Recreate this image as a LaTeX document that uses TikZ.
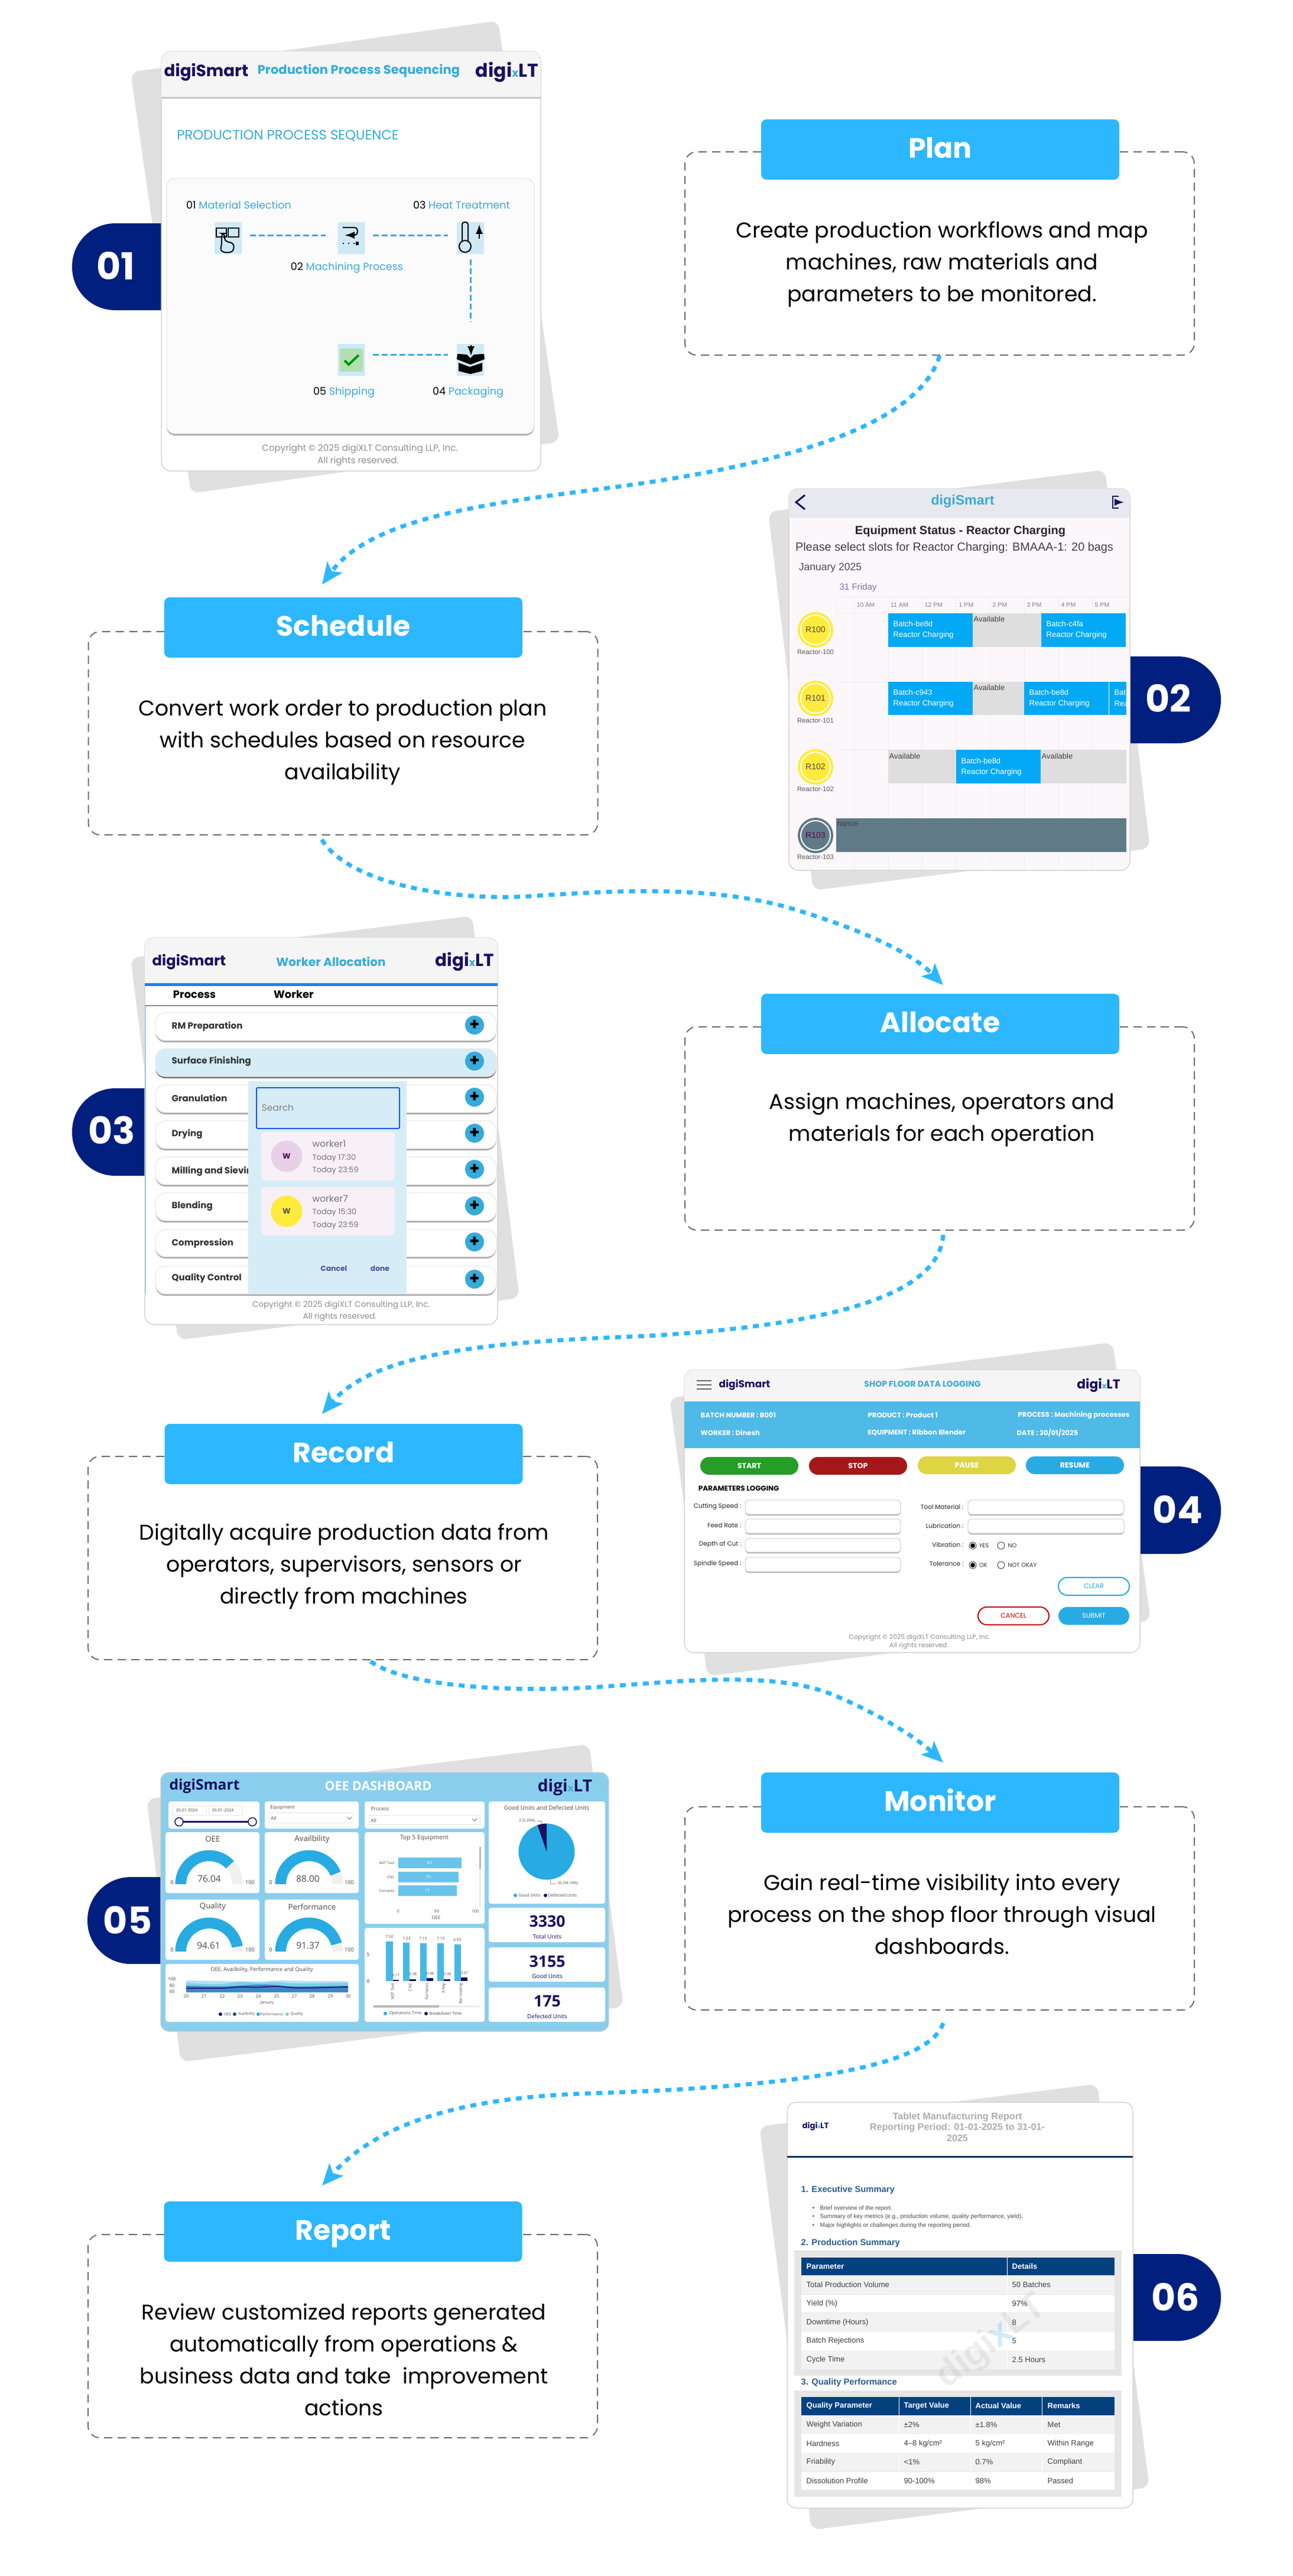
\documentclass[tikz,border=0pt]{standalone}
\usepackage{fontspec}
\usetikzlibrary{arrows.meta,shadows}
\setmainfont{Poppins}
\newfontfamily\repfont{Liberation Sans}
\newfontfamily\dashfont{Open Sans}
\newcommand{\fs}[1]{\fontsize{#1}{#1}\selectfont}
\definecolor{headblue}{HTML}{2DB7FF}
\definecolor{framegray}{HTML}{6E6E6E}
\definecolor{sheetgray}{HTML}{E0E0E0}
\definecolor{badgeblue}{HTML}{001F7E}
\definecolor{logonavy}{HTML}{1A1060}
\definecolor{seqblue}{HTML}{36ABD9}
\definecolor{cardedge}{HTML}{D4D4D4}
\definecolor{bandgray}{HTML}{F5F5F5}
\definecolor{footgray}{HTML}{8E8E8E}
\definecolor{tileblue}{HTML}{CFE9F5}
\definecolor{slotblue}{HTML}{03A9F4}
\definecolor{slotgray}{HTML}{DEDEDE}
\definecolor{slate}{HTML}{607A87}
\definecolor{tintsun}{HTML}{FFEB3B}
\definecolor{popupblue}{HTML}{D6EDF7}
\definecolor{actblue}{HTML}{27ABE2}
\definecolor{paneblue}{HTML}{8ACEED}
\definecolor{logband}{HTML}{4FB9E8}
\definecolor{dayviolet}{HTML}{7F6FA8}
\definecolor{repblue}{HTML}{03417F}
\definecolor{repband}{HTML}{F2F2F2}
\definecolor{repframe}{HTML}{E6E6E6}
\newcommand{\xlt}{digi\scalebox{0.6}{\textcolor{seqblue}{x}}LT}
\tikzset{
  stepframe/.style={draw=framegray,line width=0.02cm,dash pattern=on 0.14cm off 0.09cm,rounded corners=0.2cm,minimum width=8.62cm,minimum height=3.44cm},
  stephead/.style={fill=headblue,text=white,rounded corners=0.09cm,minimum width=6.06cm,minimum height=1.02cm,text height=0.38cm,text depth=0.1cm,font=\bfseries\fs{13.5}},
  steptext/.style={align=center,text=black,font=\fontsize{10.3}{15.4}\selectfont},
  flowline/.style={draw=headblue,line width=0.07cm,dash pattern=on 0.1cm off 0.095cm,-{Stealth[length=0.36cm,width=0.31cm,inset=0.08cm]}},
  sheet/.style={fill=sheetgray,rounded corners=0.14cm},
  badge/.style={fill=badgeblue,rounded corners=0.73cm},
  badgenum/.style={text=white,font=\bfseries\fs{18}},
  cardframe/.style={draw=cardedge,fill=white,line width=0.015cm,rounded corners=0.16cm},
  bandtop/.style={rounded corners=0.16cm},
  logotext/.style={text=logonavy,font=\bfseries\fs{#1}},
  foottext/.style={text=footgray,font=\fs{#1}},
  cardtitle/.style={text=seqblue,font=\bfseries\fs{#1}},
  seqlabel/.style={text=seqblue,font=\fs{5}},
  seqline/.style={draw=seqblue,line width=0.03cm,dash pattern=on 0.1cm off 0.05cm},
  icontile/.style={fill=tileblue,rounded corners=0.02cm,minimum width=0.46cm,minimum height=0.54cm},
  iconline/.style={draw=black,line width=0.02cm},
  slottext/.style={anchor=west,text=white,font=\repfont\fs{3.7}},
  freetext/.style={anchor=west,text=black!75,font=\repfont\fs{3.7}},
  hourtext/.style={text=black!50,font=\repfont\fs{3}},
  reactortext/.style={text=black!65,font=\repfont\fs{3.2}},
  gridrule/.style={draw=black!7,line width=0.01cm},
  sunring/.style={circle,draw=tintsun,line width=0.04cm,fill=tintsun,double=white,double distance=0.02cm,minimum size=0.5cm,text=black!70,font=\repfont\fs{4}},
  workrow/.style={draw=black!8,fill=white,rounded corners=0.17cm,drop shadow={shadow xshift=0cm,shadow yshift=-0.03cm,fill=black!35,opacity=1}},
  worklabel/.style={anchor=west,text=black!80,font=\bfseries\fs{4.3}},
  plusbtn/.style={circle,fill=seqblue,minimum size=0.32cm,text=black,font=\bfseries\fs{8}},
  workertext/.style={anchor=west,text=black!55,font=\fs{3.7}},
  pillbtn/.style={fill=#1,rounded corners=0.15cm,minimum width=1.66cm,minimum height=0.3cm,text=white,font=\bfseries\fs{3.6}},
  outlinebtn/.style={draw=#1,line width=0.02cm,fill=white,rounded corners=0.15cm,minimum width=1.2cm,minimum height=0.3cm,text=#1,font=\fs{3.2}},
  bandtext/.style={anchor=west,text=white,font=\bfseries\fs{3.3}},
  formtext/.style={anchor=east,text=black!85,font=\fs{3}},
  forminput/.style={draw=black!15,fill=white,rounded corners=0.06cm,drop shadow={shadow xshift=0cm,shadow yshift=-0.02cm,fill=black!35,opacity=1}},
  radiotext/.style={text=black!80,font=\fs{2.8}},
  radioring/.style={draw=black!70,line width=0.01cm,fill=white},
  dashpane/.style={fill=white,rounded corners=0.04cm},
  dashsmall/.style={text=black!70,font=\dashfont\fs{#1}},
  gaugebg/.style={fill=black!6},
  gaugeval/.style={fill=actblue},
  bigcount/.style={text=logonavy,font=\dashfont\bfseries\fs{7.6}},
  countname/.style={text=logonavy,font=\dashfont\fs{2.8}},
  reptext/.style={anchor=west,text=black!75,font=\repfont\fs{3.7}},
  rephead/.style={anchor=west,text=white,font=\repfont\bfseries\fs{3.7}},
  repsection/.style={anchor=west,text=repblue!85!white,font=\repfont\bfseries\fs{4.2}},
  repnote/.style={anchor=west,text=black!70,font=\repfont\fs{2.85}}
}
\begin{document}
\begin{tikzpicture}[x=1cm,y=-1cm,every node/.style={inner sep=0pt}]
\useasboundingbox (0,0) rectangle (21.88,43.6);

\fill[sheet] (2.21,1.22) -- (8.43,0.35) -- (9.47,7.48) -- (3.23,8.35) -- cycle;
\fill[badge] (3.0,3.78) -- (1.22,3.78) -- (1.22,5.25) -- (3.0,5.25);
\node[badgenum] (n1) at (1.96,4.5) {01};
\draw[cardframe] (2.73,0.87) rectangle (9.15,7.97);
\fill[fill=bandgray,bandtop] (2.73,1.64) -- (2.73,0.87) -- (9.15,0.87) -- (9.15,1.64);
\draw[draw=black!22,line width=0.03cm] (2.73,1.65) -- (9.15,1.65);
\node[logotext=7.9] (c1logo) at (3.49,1.22) {digiSmart};
\node[cardtitle=6] (c1title) at (6.07,1.2) {Production Process Sequencing};
\node[logotext=9] (c1xlt) at (8.58,1.22) {\xlt};
\node[text=seqblue,font=\fs{6.5}] (c1sub) at (4.87,2.3) {PRODUCTION PROCESS SEQUENCE};
\draw[draw=black!10,fill=black!1.5,rounded corners=0.14cm,drop shadow={shadow xshift=0cm,shadow yshift=-0.03cm,fill=black!35,opacity=1}] (2.82,3.02) rectangle (9.04,7.34);
\node[seqlabel] (c1l1) at (4.04,3.47) {\textcolor{black}{01} Material Selection};
\node[seqlabel] (c1l3) at (7.81,3.47) {\textcolor{black}{03} Heat Treatment};
\node[seqlabel] (c1l2) at (5.87,4.53) {\textcolor{black}{02} Machining Process};
\node[seqlabel] (c1l5) at (5.82,6.64) {\textcolor{black}{05} Shipping};
\node[seqlabel] (c1l4) at (7.92,6.64) {\textcolor{black}{04} Packaging};
\node[icontile] (t1) at (3.86,4.03) {};
\node[icontile] (t2) at (5.945,4.03) {};
\node[icontile] (t3) at (7.96,4.03) {};
\node[icontile] (t4) at (7.96,6.09) {};
\node[icontile] (t5) at (5.945,6.09) {};
\draw[seqline,shorten <=0.13cm,shorten >=0.2cm] ([yshift=0.05cm]t1.east) -- ([yshift=0.05cm]t2.west);
\draw[seqline,shorten <=0.13cm,shorten >=0.14cm] ([yshift=0.05cm]t2.east) -- ([yshift=0.05cm]t3.west);
\draw[seqline,shorten <=0.08cm,shorten >=0.37cm] (t3.south) -- (t4.north);
\draw[seqline,shorten <=0.13cm,shorten >=0.14cm] ([yshift=0.09cm]t5.east) -- ([yshift=0.09cm]t4.west);
\draw[iconline] (3.66,3.86) rectangle (3.83,4.01);
\draw[iconline] (3.86,3.86) rectangle (4.04,4.01);
\draw[iconline,rounded corners=0.05cm] (3.75,3.95) -- (3.75,4.16) -- (3.72,4.24) -- (3.82,4.28) -- (3.95,4.26) -- (3.96,4.12) -- (3.8,4.08) -- (3.8,3.95) -- cycle;
\draw[iconline,rounded corners=0.05cm] (5.8,3.85) -- (6.05,3.85) -- (6.05,3.98) -- (5.86,3.98);
\draw[iconline,->,>=latex] (5.95,3.98) -- (5.84,3.98);
\draw[iconline,dotted] (5.8,4.12) -- (6.02,4.12);
\fill[black] (6.02,4.09) rectangle (6.07,4.15);
\draw[iconline] (7.87,4.17) circle (0.1);
\draw[iconline,rounded corners=0.04cm] (7.82,4.08) -- (7.82,3.76) -- (7.92,3.76) -- (7.92,4.08);
\draw[iconline,->,>=latex] (8.11,4.04) -- (8.11,3.8);
\fill[black] (7.76,6.14) -- (7.95,6.21) -- (8.16,6.14) -- (8.16,6.28) -- (7.96,6.33) -- (7.76,6.28) -- cycle;
\fill[black] (7.74,5.99) -- (7.9,6.0) -- (7.96,6.06) -- (8.02,6.0) -- (8.19,5.99) -- (8.2,6.08) -- (7.96,6.17) -- (7.73,6.08) -- cycle;
\draw[iconline,->,>=latex] (7.97,5.84) -- (7.97,6.02);
\fill[green!60!black!30,rounded corners=0.02cm] (5.75,5.9) rectangle (6.14,6.29);
\draw[draw=green!60!black,line width=0.04cm] (5.83,6.1) -- (5.9,6.17) -- (6.07,6.01);
\node[foottext=4.3] (c1f1) at (6.09,7.6) {Copyright © 2025 digiXLT Consulting LLP, Inc.};
\node[foottext=4.3] (c1f2) at (6.06,7.81) {All rights reserved.};

\node[stepframe] (planbox) at (15.9,4.29) {};
\node[stephead] (planhead) at (15.91,2.53) {Plan};
\node[steptext] (plantext) at (15.94,4.47) {Create production workflows and map\\machines, raw materials and\\parameters to be monitored.};

\fill[sheet] (13.0,8.66) -- (18.7,7.95) -- (19.46,14.36) -- (13.76,15.07) -- cycle;
\fill[badge] (18.5,11.11) -- (20.66,11.11) -- (20.66,12.58) -- (18.5,12.58);
\node[badgenum] (n2) at (19.77,11.82) {02};
\draw[cardframe,fill=violet!3] (13.35,8.27) rectangle (19.12,14.73);
\fill[fill=blue!20!gray!15,bandtop] (13.35,8.76) -- (13.35,8.27) -- (19.12,8.27) -- (19.12,8.76);
\draw[draw=logonavy,line width=0.03cm] (13.62,8.38) -- (13.47,8.5) -- (13.62,8.62);
\draw[draw=logonavy,line width=0.02cm] (18.93,8.4) -- (18.83,8.4) -- (18.83,8.6) -- (18.93,8.6);
\draw[draw=logonavy,line width=0.02cm,->,>=latex] (18.88,8.5) -- (19.02,8.5);
\node[text=seqblue,font=\repfont\bfseries\fs{6.6}] (c2logo) at (16.29,8.49) {digiSmart};
\node[text=black!85,font=\repfont\bfseries\fs{5.7}] (c2title) at (16.25,8.99) {Equipment Status - Reactor Charging};
\node[text=black!75,font=\repfont\fs{5.65}] (c2sub) at (16.15,9.27) {Please select slots for Reactor Charging: BMAAA-1: 20 bags};
\node[text=black!70,font=\repfont\fs{5}] (c2month) at (14.05,9.61) {January 2025};
\node[text=dayviolet,font=\repfont\fs{4.3}] (c2day) at (14.52,9.95) {31 Friday};
\draw[gridrule] (14.15,10.1) -- (19.06,10.1) (14.15,10.38) -- (19.06,10.38) (14.15,11.54) -- (19.06,11.54) (14.15,12.69) -- (19.06,12.69) (14.15,10.1) -- (14.15,10.38);
\draw[gridrule] (14.45,10.1) -- (14.45,14.73) (15.03,10.1) -- (15.03,14.73) (15.6,10.1) -- (15.6,14.73) (16.17,10.1) -- (16.17,14.73) (16.75,10.1) -- (16.75,14.73) (17.33,10.1) -- (17.33,14.73) (17.91,10.1) -- (17.91,14.73) (18.48,10.1) -- (18.48,14.73);
\node[hourtext] (h10) at (14.65,10.24) {10 AM};
\node[hourtext] (h11) at (15.22,10.24) {11 AM};
\node[hourtext] (h12) at (15.8,10.24) {12 PM};
\node[hourtext] (h13) at (16.35,10.24) {1 PM};
\node[hourtext] (h14) at (16.92,10.24) {2 PM};
\node[hourtext] (h15) at (17.5,10.24) {3 PM};
\node[hourtext] (h16) at (18.08,10.24) {4 PM};
\node[hourtext] (h17) at (18.65,10.24) {5 PM};
\fill[slotblue] (15.03,10.38) rectangle (16.46,10.95);
\fill[slotgray] (16.46,10.38) rectangle (17.62,10.95);
\fill[slotblue] (17.62,10.38) rectangle (19.05,10.95);
\fill[slotblue] (15.03,11.54) rectangle (16.46,12.1);
\fill[slotgray] (16.46,11.54) rectangle (17.33,12.1);
\fill[slotblue] (17.33,11.54) rectangle (18.76,12.1);
\fill[slotblue] (18.77,11.54) rectangle (19.06,12.1);
\fill[slotgray] (15.03,12.69) rectangle (16.18,13.26);
\fill[slotblue] (16.18,12.69) rectangle (17.61,13.26);
\fill[slotgray] (17.61,12.69) rectangle (19.06,13.26);
\fill[slate] (14.15,13.85) rectangle (19.06,14.42);
\node[slottext] (s1a) at (15.11,10.56) {Batch-be8d};
\node[slottext] (s1b) at (15.11,10.75) {Reactor Charging};
\node[slottext] (s1c) at (17.7,10.56) {Batch-c4fa};
\node[slottext] (s1d) at (17.7,10.75) {Reactor Charging};
\node[freetext] (s1e) at (16.47,10.48) {Available};
\node[slottext] (s2a) at (15.11,11.72) {Batch-c943};
\node[slottext] (s2b) at (15.11,11.91) {Reactor Charging};
\node[freetext] (s2c) at (16.47,11.64) {Available};
\node[slottext] (s2d) at (17.41,11.72) {Batch-be8d};
\node[slottext] (s2e) at (17.41,11.91) {Reactor Charging};
\node[slottext] (s2f) at (18.85,11.72) {Bat};
\node[slottext] (s2g) at (18.85,11.91) {Rea};
\node[freetext] (s3a) at (15.04,12.8) {Available};
\node[slottext] (s3b) at (16.26,12.88) {Batch-be8d};
\node[slottext] (s3c) at (16.26,13.07) {Reactor Charging};
\node[freetext] (s3d) at (17.62,12.8) {Available};
\node[freetext] (s4a) at (14.16,13.95) {nance};
\node[sunring] (r0) at (13.8,10.66) {R100};
\node[sunring] (r1) at (13.8,11.82) {R101};
\node[sunring] (r2) at (13.8,12.98) {R102};
\node[sunring,draw=slate,fill=slate,text=violet!70!black] (r3) at (13.8,14.14) {R103};
\node[reactortext] (rl0) at (13.8,11.04) {Reactor-100};
\node[reactortext] (rl1) at (13.8,12.2) {Reactor-101};
\node[reactortext] (rl2) at (13.8,13.36) {Reactor-102};
\node[reactortext] (rl3) at (13.8,14.51) {Reactor-103};

\node[stepframe] (schedbox) at (5.805,12.41) {};
\node[stephead] (schedhead) at (5.81,10.62) {Schedule};
\node[steptext] (schedtext) at (5.8,12.56) {Convert work order to production plan\\with schedules based on resource\\availability};

\fill[sheet] (2.21,16.21) -- (7.99,15.5) -- (8.79,21.97) -- (3.01,22.68) -- cycle;
\fill[badge] (3.0,18.42) -- (1.22,18.42) -- (1.22,19.9) -- (3.0,19.9);
\node[badgenum] (n3) at (1.89,19.13) {03};
\draw[cardframe] (2.45,15.87) rectangle (8.42,22.42);
\fill[fill=bandgray,bandtop] (2.45,16.64) -- (2.45,15.87) -- (8.42,15.87) -- (8.42,16.64);
\draw[draw=headblue!70!blue,line width=0.05cm] (2.45,16.66) -- (8.42,16.66);
\node[logotext=6.9] (c3logo) at (3.2,16.28) {digiSmart};
\node[cardtitle=5.7] (c3title) at (5.6,16.28) {Worker Allocation};
\node[logotext=8.4] (c3xlt) at (7.86,16.28) {\xlt};
\node[text=black,font=\bfseries\fs{5.1}] (c3p) at (3.29,16.83) {Process};
\node[text=black,font=\bfseries\fs{5.1}] (c3w) at (4.97,16.83) {Worker};
\draw[draw=black!45,line width=0.02cm] (2.45,17.02) -- (8.42,17.02);
\draw[draw=seqblue!70,line width=0.01cm] (2.46,17.02) -- (2.46,21.9);
\draw[workrow] (2.63,17.14) rectangle (8.4,17.61);
\draw[workrow,fill=popupblue,drop shadow={shadow xshift=0cm,shadow yshift=-0.03cm,fill=black!55,opacity=1}] (2.63,17.75) rectangle (8.4,18.22);
\draw[workrow] (2.63,18.36) rectangle (8.4,18.83);
\draw[workrow] (2.63,18.97) rectangle (8.4,19.44);
\draw[workrow] (2.63,19.58) rectangle (8.4,20.05);
\draw[workrow] (2.63,20.19) rectangle (8.4,20.66);
\draw[workrow] (2.63,20.81) rectangle (8.4,21.27);
\draw[workrow] (2.63,21.43) rectangle (8.4,21.9);
\node[worklabel] (w1) at (2.9,17.37) {RM Preparation};
\node[worklabel] (w2) at (2.9,17.96) {Surface Finishing};
\node[worklabel] (w3) at (2.9,18.58) {Granulation};
\node[worklabel] (w4) at (2.9,19.19) {Drying};
\node[worklabel] (w5) at (2.9,19.82) {Milling and Sieving};
\node[worklabel] (w6) at (2.9,20.41) {Blending};
\node[worklabel] (w7) at (2.9,21.04) {Compression};
\node[worklabel] (w8) at (2.9,21.63) {Quality Control};
\node[plusbtn] (a1) at (8.03,17.35) {+};
\node[plusbtn] (a2) at (8.03,17.96) {+};
\node[plusbtn] (a3) at (8.03,18.57) {+};
\node[plusbtn] (a4) at (8.03,19.18) {+};
\node[plusbtn] (a5) at (8.03,19.79) {+};
\node[plusbtn] (a6) at (8.03,20.41) {+};
\node[plusbtn] (a7) at (8.03,21.02) {+};
\node[plusbtn] (a8) at (8.03,21.65) {+};
\fill[popupblue] (4.2,18.3) rectangle (6.88,21.89);
\draw[draw=blue!50!seqblue,line width=0.02cm,rounded corners=0.02cm] (4.34,18.41) rectangle (6.76,19.1);
\node[text=black!50,font=\fs{4.4}] (c3s) at (4.7,18.75) {Search};
\fill[violet!6,rounded corners=0.07cm] (4.42,19.16) rectangle (6.68,19.98);
\fill[violet!6,rounded corners=0.07cm] (4.42,20.09) rectangle (6.68,20.91);
\node[circle,fill=violet!18,minimum size=0.53cm,text=violet!70!black,font=\bfseries\fs{3.7}] (av1) at (4.85,19.57) {W};
\node[circle,fill=tintsun,minimum size=0.53cm,text=black!65,font=\bfseries\fs{3.7}] (av2) at (4.85,20.5) {W};
\node[workertext,font=\fs{4.4}] (wk1) at (5.28,19.36) {worker1};
\node[workertext] (wk1a) at (5.28,19.6) {Today 17:30};
\node[workertext] (wk1b) at (5.28,19.81) {Today 23:59};
\node[workertext,font=\fs{4.4}] (wk2) at (5.28,20.29) {worker7};
\node[workertext] (wk2a) at (5.28,20.52) {Today 15:30};
\node[workertext] (wk2b) at (5.28,20.74) {Today 23:59};
\node[text=blue!40!black!70,font=\bfseries\fs{3.5}] (c3c) at (5.65,21.47) {Cancel};
\node[text=blue!40!black!70,font=\bfseries\fs{3.5}] (c3d) at (6.43,21.47) {done};
\node[foottext=3.9] (c3f1) at (5.77,22.09) {Copyright © 2025 digiXLT Consulting LLP, Inc.};
\node[foottext=3.9] (c3f2) at (5.75,22.29) {All rights reserved.};

\node[stepframe] (allocbox) at (15.9,19.1) {};
\node[stephead] (allochead) at (15.91,17.33) {Allocate};
\node[steptext] (alloctext) at (15.94,18.95) {Assign machines, operators and\\materials for each operation};

\fill[sheet] (11.33,23.66) -- (18.83,22.72) -- (19.47,27.43) -- (11.97,28.37) -- cycle;
\fill[badge] (18.5,24.82) -- (20.66,24.82) -- (20.66,26.3) -- (18.5,26.3);
\node[badgenum] (n4) at (19.93,25.55) {04};
\draw[cardframe] (11.58,23.19) rectangle (19.29,27.97);
\fill[fill=bandgray,bandtop] (11.58,23.72) -- (11.58,23.19) -- (19.29,23.19) -- (19.29,23.72);
\fill[fill=logband] (11.58,23.72) rectangle (19.29,24.51);
\draw[draw=black!60,line width=0.015cm] (11.79,23.37) -- (12.04,23.37) (11.79,23.44) -- (12.04,23.44) (11.79,23.51) -- (12.04,23.51);
\node[logotext=4.8] (c4logo) at (12.6,23.44) {digiSmart};
\node[cardtitle=4] (c4title) at (15.61,23.43) {SHOP FLOOR DATA LOGGING};
\node[logotext=6.2] (c4xlt) at (18.59,23.45) {\xlt};
\node[bandtext] (b1) at (11.85,23.95) {BATCH NUMBER : B001};
\node[bandtext] (b2) at (14.68,23.95) {PRODUCT : Product 1};
\node[bandtext] (b3) at (17.22,23.95) {PROCESS : Machining processes};
\node[bandtext] (b4) at (11.85,24.25) {WORKER : Dinesh};
\node[bandtext] (b5) at (14.68,24.25) {EQUIPMENT : Ribbon Blender};
\node[bandtext] (b6) at (17.2,24.25) {DATE : 30/01/2025};
\node[pillbtn=green!55!black!85] (bstart) at (12.68,24.81) {START};
\node[pillbtn=red!60!black!90] (bstop) at (14.52,24.81) {STOP};
\node[pillbtn=yellow!70!gray] (bpause) at (16.36,24.8) {PAUSE};
\node[pillbtn=actblue] (bresume) at (18.19,24.8) {RESUME};
\node[text=black,font=\bfseries\fs{3.4}] (c4p) at (12.5,25.19) {PARAMETERS LOGGING};
\draw[forminput] (12.61,25.39) rectangle (15.24,25.63);
\draw[forminput] (12.61,25.71) rectangle (15.24,25.95);
\draw[forminput] (12.61,26.04) rectangle (15.24,26.27);
\draw[forminput] (12.61,26.36) rectangle (15.24,26.6);
\draw[forminput] (16.38,25.39) rectangle (19.02,25.63);
\draw[forminput] (16.38,25.71) rectangle (19.02,25.95);
\node[formtext] (f1) at (12.55,25.5) {Cutting Speed :};
\node[formtext] (f2) at (12.55,25.82) {Feed Rate :};
\node[formtext] (f3) at (12.55,26.14) {Depth of Cut :};
\node[formtext] (f4) at (12.55,26.47) {Spindle Speed :};
\node[formtext] (f5) at (16.31,25.5) {Tool Material :};
\node[formtext] (f6) at (16.31,25.82) {Lubrication :};
\node[formtext] (f7) at (16.31,26.14) {Vibration :};
\node[formtext] (f8) at (16.31,26.47) {Tolerance :};
\draw[radioring] (16.46,26.16) circle (0.06);
\draw[radioring] (16.94,26.16) circle (0.06);
\draw[radioring] (16.46,26.49) circle (0.06);
\draw[radioring] (16.94,26.49) circle (0.06);
\fill[black] (16.46,26.16) circle (0.04);
\fill[black] (16.46,26.49) circle (0.04);
\node[radiotext] (g1) at (16.65,26.16) {YES};
\node[radiotext] (g2) at (17.13,26.16) {NO};
\node[radiotext] (g3) at (16.64,26.49) {OK};
\node[radiotext] (g4) at (17.3,26.49) {NOT OKAY};
\node[outlinebtn=actblue] (bclear) at (18.51,26.85) {CLEAR};
\node[outlinebtn=red!80!black] (bcancel) at (17.15,27.35) {CANCEL};
\node[pillbtn=actblue,minimum width=1.2cm,font=\fs{3.2}] (bsubmit) at (18.51,27.35) {SUBMIT};
\node[foottext=3.1] (c4f1) at (15.56,27.72) {Copyright © 2025 digiXLT Consulting LLP, Inc.};
\node[foottext=3.1] (c4f2) at (15.55,27.86) {All rights reserved.};

\node[stepframe] (recbox) at (5.8,26.37) {};
\node[stephead] (rechead) at (5.815,24.61) {Record};
\node[steptext] (rectext) at (5.82,26.51) {Digitally acquire production data from\\operators, supervisors, sensors or\\directly from machines};

\fill[sheet] (2.48,30.45) -- (9.97,29.52) -- (10.55,33.97) -- (3.06,34.9) -- cycle;
\fill[badge] (3.0,31.77) -- (1.48,31.77) -- (1.48,33.24) -- (3.0,33.24);
\node[badgenum] (n5) at (2.16,32.5) {05};
\draw[fill=paneblue,draw=black!20,rounded corners=0.14cm] (2.72,30.0) rectangle (10.3,34.38);
\node[text=logonavy,font=\dashfont\bfseries\fs{7}] (c5logo) at (3.46,30.23) {digiSmart};
\node[text=white,font=\dashfont\bfseries\fs{6.1}] (c5title) at (6.4,30.23) {OEE DASHBOARD};
\node[text=logonavy,font=\dashfont\bfseries\fs{8}] (c5xlt) at (9.56,30.25) {\xlt};
\fill[dashpane] (2.85,30.49) rectangle (4.39,30.95);
\fill[dashpane] (4.48,30.49) rectangle (6.07,30.95);
\fill[dashpane] (6.17,30.49) rectangle (8.2,30.95);
\fill[dashpane] (8.27,30.49) rectangle (10.24,32.22);
\fill[dashpane] (2.8,31.01) rectangle (4.39,32.04);
\fill[dashpane] (4.48,31.01) rectangle (6.07,32.04);
\fill[dashpane] (2.8,32.15) rectangle (4.39,33.17);
\fill[dashpane] (4.48,32.15) rectangle (6.07,33.17);
\fill[dashpane] (6.17,31.01) rectangle (8.2,32.56);
\fill[dashpane] (6.17,32.63) rectangle (8.2,34.22);
\fill[dashpane] (2.8,33.24) rectangle (6.07,34.22);
\fill[dashpane] (8.27,32.29) rectangle (10.24,32.87);
\fill[dashpane] (8.27,32.96) rectangle (10.24,33.54);
\fill[dashpane] (8.27,33.64) rectangle (10.24,34.22);
\draw[draw=black!10,line width=0.01cm] (2.92,30.56) rectangle (3.49,30.72) (3.53,30.56) rectangle (4.1,30.72);
\node[dashsmall=2] (d1) at (3.16,30.64) {20-01-2024};
\node[dashsmall=2] (d2) at (3.77,30.64) {30-01-2024};
\draw[draw=logonavy,line width=0.025cm] (3.1,30.835) -- (4.2,30.835);
\draw[draw=logonavy,line width=0.015cm,fill=white] (3.03,30.835) circle (0.07) (4.27,30.835) circle (0.07);
\node[dashsmall=2.3] (d3) at (4.78,30.59) {Equipment};
\draw[draw=black!10,line width=0.01cm] (4.54,30.68) rectangle (5.98,30.85);
\node[dashsmall=2.3] (d4) at (4.63,30.77) {All};
\draw[draw=black!50,line width=0.01cm] (5.87,30.75) -- (5.91,30.79) -- (5.95,30.75);
\node[dashsmall=2.4] (d5) at (6.43,30.61) {Process};
\draw[draw=black!10,line width=0.01cm] (6.24,30.72) rectangle (8.12,30.88);
\node[dashsmall=2.3] (d6) at (6.32,30.81) {All};
\draw[draw=black!50,line width=0.01cm] (7.99,30.78) -- (8.03,30.82) -- (8.07,30.78);
\node[dashsmall=2.85] (d7) at (9.25,30.6) {Good Units and Defected Units};
\begin{scope}[shift={(9.25,31.34)},y=1cm]
\fill[actblue] (0,0) circle (0.475);
\fill[logonavy] (0,0) -- (90:0.475) arc[start angle=90,end angle=109,radius=0.475] -- cycle;
\end{scope}
\node[dashsmall=1.85] (d8) at (8.92,30.82) {2 (5.26\%)};
\node[dashsmall=1.85] (d9) at (9.61,31.88) {32 (94.74\%)};
\draw[draw=black!40,line width=0.008cm] (9.09,30.82) -- (9.16,30.82) -- (9.16,30.87) (9.31,31.82) -- (9.31,31.88) -- (9.4,31.88);
\fill[actblue] (8.72,32.08) circle (0.03);
\node[dashsmall=2] (d10) at (8.96,32.08) {Good Units};
\fill[logonavy] (9.23,32.08) circle (0.03);
\node[dashsmall=2] (d11) at (9.52,32.08) {Defected Units};
\begin{scope}[shift={(3.54,31.89)},y=1cm]
\fill[gaugebg] (0.575,0) arc[start angle=0,end angle=180,radius=0.575] -- (-0.39,0) arc[start angle=180,end angle=0,radius=0.39] -- cycle;
\fill[gaugeval] (-0.575,0) arc[start angle=180,end angle=43.1,radius=0.575] -- (43.1:0.39) arc[start angle=43.1,end angle=180,radius=0.39] -- cycle;
\end{scope}
\begin{scope}[shift={(5.23,31.89)},y=1cm]
\fill[gaugebg] (0.575,0) arc[start angle=0,end angle=180,radius=0.575] -- (-0.39,0) arc[start angle=180,end angle=0,radius=0.39] -- cycle;
\fill[gaugeval] (-0.575,0) arc[start angle=180,end angle=21.6,radius=0.575] -- (21.6:0.39) arc[start angle=21.6,end angle=180,radius=0.39] -- cycle;
\end{scope}
\begin{scope}[shift={(3.54,33.03)},y=1cm]
\fill[gaugebg] (0.575,0) arc[start angle=0,end angle=180,radius=0.575] -- (-0.39,0) arc[start angle=180,end angle=0,radius=0.39] -- cycle;
\fill[gaugeval] (-0.575,0) arc[start angle=180,end angle=9.7,radius=0.575] -- (9.7:0.39) arc[start angle=9.7,end angle=180,radius=0.39] -- cycle;
\end{scope}
\begin{scope}[shift={(5.23,33.03)},y=1cm]
\fill[gaugebg] (0.575,0) arc[start angle=0,end angle=180,radius=0.575] -- (-0.39,0) arc[start angle=180,end angle=0,radius=0.39] -- cycle;
\fill[gaugeval] (-0.575,0) arc[start angle=180,end angle=15.5,radius=0.575] -- (15.5:0.39) arc[start angle=15.5,end angle=180,radius=0.39] -- cycle;
\end{scope}
\node[dashsmall=3.8] (o1) at (3.6,31.13) {OEE};
\node[dashsmall=3.8] (o2) at (5.28,31.13) {Availbility};
\node[dashsmall=3.8] (o3) at (3.6,32.27) {Quality};
\node[dashsmall=3.8] (o4) at (5.28,32.27) {Performance};
\node[dashsmall=4.4] (v1) at (3.54,31.8) {76.04};
\node[dashsmall=4.4] (v2) at (5.21,31.8) {88.00};
\node[dashsmall=4.4] (v3) at (3.53,32.93) {94.61};
\node[dashsmall=4.4] (v4) at (5.21,32.93) {91.37};
\node[dashsmall=2.65] (z1) at (2.91,31.86) {0};
\node[dashsmall=2.65] (y1) at (4.23,31.86) {100};
\node[dashsmall=2.65] (z2) at (4.58,31.86) {0};
\node[dashsmall=2.65] (y2) at (5.91,31.86) {100};
\node[dashsmall=2.65] (z3) at (2.91,33.0) {0};
\node[dashsmall=2.65] (y3) at (4.23,33.0) {100};
\node[dashsmall=2.65] (z4) at (4.58,33.0) {0};
\node[dashsmall=2.65] (y4) at (5.91,33.0) {100};
\node[dashsmall=2.95] (e0) at (7.18,31.11) {Top 5 Equipment};
\draw[draw=black!12,line width=0.008cm,dotted] (6.74,31.25) -- (6.74,32.31) (7.39,31.25) -- (7.39,32.31) (8.04,31.25) -- (8.04,32.31);
\fill[actblue!70!white] (6.74,31.44) rectangle (7.81,31.62);
\fill[actblue!70!white] (6.74,31.68) rectangle (7.76,31.86);
\fill[actblue!70!white] (6.74,31.91) rectangle (7.73,32.09);
\node[text=white,font=\dashfont\fs{2}] (e1) at (7.27,31.53) {82};
\node[text=white,font=\dashfont\fs{2}] (e2) at (7.25,31.77) {79};
\node[text=white,font=\dashfont\fs{2}] (e3) at (7.23,32.0) {77};
\node[dashsmall=1.75,anchor=east] (e4) at (6.68,31.53) {NDT Tool};
\node[dashsmall=1.75,anchor=east] (e5) at (6.68,31.77) {CNC};
\node[dashsmall=1.75,anchor=east] (e6) at (6.68,32.0) {Furnaces};
\node[dashsmall=2] (e7) at (6.74,32.35) {0};
\node[dashsmall=2] (e8) at (7.39,32.35) {50};
\node[dashsmall=2] (e9) at (8.04,32.35) {100};
\node[dashsmall=2.2] (e10) at (7.38,32.46) {OEE};
\draw[draw=black!8,line width=0.03cm] (8.12,31.26) -- (8.12,32.28);
\draw[draw=black!28,line width=0.03cm] (8.12,31.26) -- (8.12,31.63);
\draw[draw=black!10,line width=0.008cm,dotted] (6.3,33.08) -- (8.1,33.08) (6.3,33.53) -- (8.1,33.53);
\fill[actblue!85!white] (6.53,32.86) rectangle (6.65,33.53);
\fill[actblue!85!white] (6.82,32.88) rectangle (6.93,33.53);
\fill[actblue!85!white] (7.11,32.89) rectangle (7.22,33.53);
\fill[actblue!85!white] (7.4,32.89) rectangle (7.51,33.53);
\fill[actblue!85!white] (7.69,32.91) rectangle (7.8,33.53);
\fill[logonavy] (6.65,33.51) rectangle (6.75,33.53);
\fill[logonavy] (6.93,33.495) rectangle (7.04,33.53);
\fill[logonavy] (7.22,33.48) rectangle (7.33,33.53);
\fill[logonavy] (7.51,33.495) rectangle (7.62,33.53);
\fill[logonavy] (7.8,33.47) rectangle (7.91,33.53);
\node[dashsmall=1.9] (k1) at (6.59,32.78) {7.50};
\node[dashsmall=1.9] (k2) at (6.88,32.81) {7.23};
\node[dashsmall=1.9] (k3) at (7.16,32.81) {7.15};
\node[dashsmall=1.9] (k4) at (7.46,32.81) {7.15};
\node[dashsmall=1.9] (k5) at (7.74,32.835) {6.92};
\node[dashsmall=1.8] (m1) at (6.7,33.43) {0.17};
\node[dashsmall=1.8] (m2) at (6.99,33.41) {0.38};
\node[dashsmall=1.8] (m3) at (7.28,33.405) {0.46};
\node[dashsmall=1.8] (m4) at (7.57,33.41) {0.38};
\node[dashsmall=1.8] (m5) at (7.86,33.39) {0.67};
\node[dashsmall=2.4] (m6) at (6.23,33.08) {5};
\node[dashsmall=2.4] (m7) at (6.23,33.53) {0};
\node[dashsmall=1.9,rotate=90,anchor=east] (q1) at (6.64,33.56) {NDT Tool};
\node[dashsmall=1.9,rotate=90,anchor=east] (q2) at (6.94,33.56) {CNC};
\node[dashsmall=1.9,rotate=90,anchor=east] (q3) at (7.22,33.56) {Furnaces};
\node[dashsmall=1.9,rotate=90,anchor=east] (q4) at (7.51,33.56) {X-Ray};
\node[dashsmall=1.9,rotate=90,anchor=east] (q5) at (7.8,33.56) {Bar coating};
\draw[draw=black!6,line width=0.035cm] (6.32,33.96) -- (8.13,33.96);
\draw[draw=black!28,line width=0.035cm] (6.32,33.96) -- (7.43,33.96);
\fill[actblue] (6.52,34.08) circle (0.03);
\node[dashsmall=2] (q6) at (6.86,34.08) {Operations Time};
\fill[logonavy] (7.21,34.08) circle (0.03);
\node[dashsmall=2] (q7) at (7.54,34.08) {Breakdown Time};
\node[dashsmall=2.6] (l0) at (4.43,33.34) {OEE, Availbility, Performance and Quality};
\node[dashsmall=2.2] (l1) at (2.91,33.495) {100};
\node[dashsmall=2.2] (l2) at (2.91,33.606) {80};
\node[dashsmall=2.2] (l3) at (2.91,33.71) {60};
\fill[actblue!35!white] plot[smooth] coordinates {(3.15,33.52) (3.76,33.53) (4.37,33.54) (4.68,33.52) (5.28,33.53) (5.89,33.53)} -- (5.89,33.72) -- (3.15,33.72) -- cycle;
\fill[actblue!60!white] plot[smooth] coordinates {(3.15,33.56) (3.45,33.58) (3.76,33.58) (4.06,33.54) (4.37,33.56) (4.68,33.55) (4.98,33.57) (5.89,33.56)} -- (5.89,33.72) -- (3.15,33.72) -- cycle;
\fill[blue!20!actblue!70!gray] plot[smooth] coordinates {(3.15,33.61) (3.76,33.62) (4.37,33.59) (4.68,33.6) (4.98,33.62) (5.89,33.61)} -- (5.89,33.72) -- (3.15,33.72) -- cycle;
\draw[draw=logonavy,line width=0.015cm] plot[smooth] coordinates {(3.15,33.65) (3.76,33.65) (4.06,33.63) (4.37,33.635) (4.68,33.62) (4.98,33.645) (5.28,33.645) (5.89,33.63)};
\node[dashsmall=2.2] (x1) at (3.15,33.79) {20};
\node[dashsmall=2.2] (x2) at (3.45,33.79) {21};
\node[dashsmall=2.2] (x3) at (3.76,33.79) {22};
\node[dashsmall=2.2] (x4) at (4.06,33.79) {23};
\node[dashsmall=2.2] (x5) at (4.37,33.79) {24};
\node[dashsmall=2.2] (x6) at (4.68,33.79) {25};
\node[dashsmall=2.2] (x7) at (4.98,33.79) {27};
\node[dashsmall=2.2] (x8) at (5.28,33.79) {28};
\node[dashsmall=2.2] (x9) at (5.59,33.79) {29};
\node[dashsmall=2.2] (x10) at (5.89,33.79) {30};
\node[dashsmall=1.85] (x11) at (4.52,33.9) {January};
\fill[logonavy] (3.73,34.09) circle (0.03);
\node[dashsmall=1.8] (x12) at (3.85,34.09) {OEE};
\fill[actblue!50!black] (3.97,34.09) circle (0.03);
\node[dashsmall=1.8] (x13) at (4.17,34.09) {Availbility};
\fill[actblue] (4.37,34.09) circle (0.03);
\node[dashsmall=1.8] (x14) at (4.6,34.09) {Performance};
\fill[actblue!60!white] (4.86,34.09) circle (0.03);
\node[dashsmall=1.8] (x15) at (5.02,34.09) {Quality};
\node[bigcount] (u1) at (9.26,32.52) {3330};
\node[countname] (u2) at (9.26,32.78) {Total Units};
\node[bigcount] (u3) at (9.26,33.195) {3155};
\node[countname] (u4) at (9.26,33.45) {Good Units};
\node[bigcount] (u5) at (9.26,33.87) {175};
\node[countname] (u6) at (9.26,34.13) {Defected Units};

\node[stepframe] (monbox) at (15.9,32.3) {};
\node[stephead] (monhead) at (15.91,30.51) {Monitor};
\node[steptext] (montext) at (15.94,32.4) {Gain real-time visibility into every\\process on the shop floor through visual\\dashboards.};

\fill[sheet] (12.85,35.99) -- (18.57,35.27) -- (19.45,42.1) -- (13.73,42.82) -- cycle;
\fill[badge] (18.5,38.15) -- (20.66,38.15) -- (20.66,39.62) -- (18.5,39.62);
\node[badgenum] (n6) at (19.89,38.88) {06};
\draw[cardframe] (13.32,35.58) rectangle (19.17,42.45);
\node[logotext=3.8] (c6xlt) at (13.8,35.99) {\xlt};
\node[align=center,text=black!32,font=\repfont\bfseries\fontsize{4.6}{5.3}\selectfont] (c6title) at (16.2,36.0) {Tablet Manufacturing Report\\Reporting Period: 01-01-2025 to 31-01-\\2025};
\draw[draw=repblue!80!black,line width=0.03cm] (13.32,36.5) -- (19.17,36.5);
\node[repsection] (c6s1) at (13.55,37.07) {1. Executive Summary};
\node[repnote] (c6d1) at (13.74,37.38) {•};
\node[repnote] (c6d2) at (13.74,37.52) {•};
\node[repnote] (c6d3) at (13.74,37.67) {•};
\node[repnote] (c6b1) at (13.87,37.38) {Brief overview of the report.};
\node[repnote] (c6b2) at (13.87,37.52) {Summary of key metrics (e.g., production volume, quality performance, yield).};
\node[repnote] (c6b3) at (13.87,37.67) {Major highlights or challenges during the reporting period.};
\node[repsection] (c6s2) at (13.55,37.97) {2. Production Summary};
\fill[repframe] (13.44,38.09) rectangle (18.98,40.21);
\fill[repblue] (13.56,38.21) rectangle (18.86,38.51);
\fill[repband] (13.56,38.51) rectangle (18.86,38.83);
\fill[white] (13.56,38.84) rectangle (18.86,39.14);
\fill[repband] (13.56,39.15) rectangle (18.86,39.47);
\fill[white] (13.56,39.47) rectangle (18.86,39.78);
\fill[repband] (13.56,39.78) rectangle (18.86,40.1);
\draw[draw=white,line width=0.01cm] (17.04,38.21) -- (17.04,40.1);
\node[text=black!30,opacity=0.22,rotate=38,font=\repfont\bfseries\fs{17.7}] (c6wm) at (16.78,39.64) {digi\textcolor{seqblue}{x}LT};
\node[rephead] (c6h1) at (13.64,38.36) {Parameter};
\node[rephead] (c6h2) at (17.12,38.36) {Details};
\node[reptext] (c6r1) at (13.64,38.67) {Total Production Volume};
\node[reptext] (c6r2) at (17.12,38.67) {50 Batches};
\node[reptext] (c6r3) at (13.64,38.99) {Yield (\%)};
\node[reptext] (c6r4) at (17.12,38.99) {97\%};
\node[reptext] (c6r5) at (13.64,39.31) {Downtime (Hours)};
\node[reptext] (c6r6) at (17.12,39.31) {8};
\node[reptext] (c6r7) at (13.64,39.62) {Batch Rejections};
\node[reptext] (c6r8) at (17.12,39.62) {5};
\node[reptext] (c6r9) at (13.64,39.94) {Cycle Time};
\node[reptext] (c6r10) at (17.12,39.94) {2.5 Hours};
\node[repsection] (c6s3) at (13.55,40.33) {3. Quality Performance};
\fill[repframe] (13.44,40.455) rectangle (18.98,42.26);
\fill[repblue] (13.56,40.57) rectangle (18.86,40.88);
\fill[repband] (13.56,40.88) rectangle (18.86,41.2);
\fill[white] (13.56,41.2) rectangle (18.86,41.51);
\fill[repband] (13.56,41.51) rectangle (18.86,41.83);
\fill[white] (13.56,41.84) rectangle (18.86,42.14);
\draw[draw=white,line width=0.01cm] (15.21,40.57) -- (15.21,42.14) (16.42,40.57) -- (16.42,42.14) (17.63,40.57) -- (17.63,42.14);
\node[rephead] (q6h1) at (13.64,40.72) {Quality Parameter};
\node[rephead] (q6h2) at (15.29,40.72) {Target Value};
\node[rephead] (q6h3) at (16.5,40.72) {Actual Value};
\node[rephead] (q6h4) at (17.72,40.72) {Remarks};
\node[reptext] (q6a1) at (13.64,41.04) {Weight Variation};
\node[reptext] (q6a2) at (15.29,41.04) {±2\%};
\node[reptext] (q6a3) at (16.5,41.04) {±1.8\%};
\node[reptext] (q6a4) at (17.72,41.04) {Met};
\node[reptext] (q6b1) at (13.64,41.36) {Hardness};
\node[reptext] (q6b2) at (15.29,41.36) {4–8 kg/cm²};
\node[reptext] (q6b3) at (16.5,41.36) {5 kg/cm²};
\node[reptext] (q6b4) at (17.72,41.36) {Within Range};
\node[reptext] (q6c1) at (13.64,41.67) {Friability};
\node[reptext] (q6c2) at (15.29,41.67) {<1\%};
\node[reptext] (q6c3) at (16.5,41.67) {0.7\%};
\node[reptext] (q6c4) at (17.72,41.67) {Compliant};
\node[reptext] (q6d1) at (13.64,41.99) {Dissolution Profile};
\node[reptext] (q6d2) at (15.29,41.99) {90-100\%};
\node[reptext] (q6d3) at (16.5,41.99) {98\%};
\node[reptext] (q6d4) at (17.72,41.99) {Passed};

\node[stepframe] (repbox) at (5.8,39.54) {};
\node[stephead] (rephd) at (5.805,37.77) {Report};
\node[steptext] (reptxt) at (5.82,39.94) {Review customized reports generated\\automatically from operations \&\\business data and take\ \ improvement\\actions};

\draw[flowline] (planbox.south) .. controls (15.6,7.0) and (14.0,7.7) .. (11.0,8.16) .. controls (9.0,8.46) and (6.4,8.6) .. ([xshift=-0.36cm,yshift=0.21cm]schedhead.north);
\draw[flowline] ([xshift=-0.36cm,yshift=-0.07cm]schedbox.south) .. controls (5.9,14.95) and (7.6,15.25) .. (8.94,15.17) .. controls (10.2,15.09) and (12.0,14.95) .. (13.44,15.39) .. controls (14.5,15.71) and (15.4,16.1) .. ([xshift=0.05cm,yshift=0.14cm]allochead.north);
\draw[flowline] ([xshift=0.06cm,yshift=-0.07cm]allocbox.south) .. controls (15.9,21.8) and (14.5,22.4) .. (10.97,22.61) .. controls (8.8,22.7) and (6.4,22.8) .. ([xshift=-0.365cm,yshift=0.16cm]rechead.north);
\draw[flowline] ([xshift=0.47cm,yshift=-0.02cm]recbox.south) .. controls (6.8,28.5) and (8.3,28.65) .. (10.0,28.56) .. controls (11.2,28.49) and (13.0,28.25) .. (14.06,28.67) .. controls (14.8,28.97) and (15.5,29.4) .. ([xshift=0.05cm,yshift=0.16cm]monhead.north);
\draw[flowline] ([xshift=0.06cm,yshift=-0.21cm]monbox.south) .. controls (15.75,34.9) and (14.0,35.3) .. (10.0,35.43) .. controls (8.5,35.48) and (6.6,35.7) .. ([xshift=-0.355cm,yshift=0.26cm]rephd.north);
\end{tikzpicture}
\end{document}
